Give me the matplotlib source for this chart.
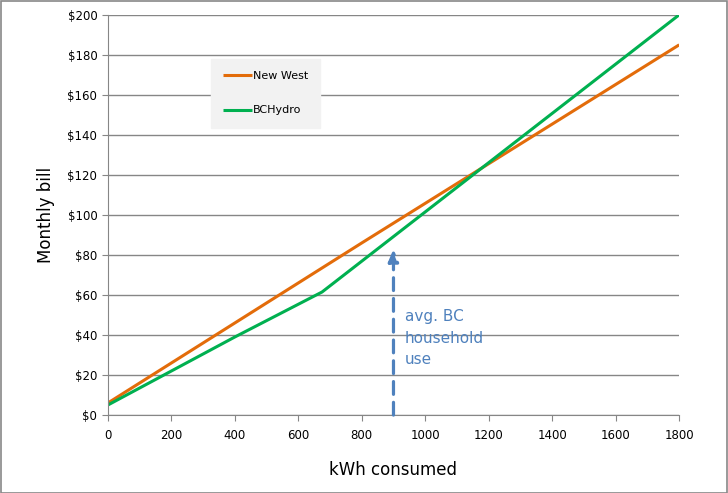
import numpy as np
import matplotlib.pyplot as plt

kwh_nw = [0, 800, 1800]
bill_nw = [6, 86, 185]
kwh_bc = [0, 400, 675, 1800]
bill_bc = [5, 39, 61.5, 200]
avg_use = 900
avg_top = 83

fig = plt.figure(figsize=(7.28, 4.93), dpi=100)
fig.patches.append(plt.Rectangle((0.001, 0.001), 0.997, 0.997, transform=fig.transFigure,
                                 fill=False, edgecolor='#888888', lw=1.2))
ax = fig.add_axes([0.148, 0.158, 0.785, 0.812])

ax.plot(kwh_nw, bill_nw, color='#E36C0A', lw=2.2, label='New West', solid_capstyle='butt')
ax.plot(kwh_bc, bill_bc, color='#00B050', lw=2.2, label='BCHydro', solid_capstyle='butt')

ax.annotate('', xy=(avg_use, avg_top), xytext=(avg_use, 0),
            arrowprops=dict(arrowstyle='-|>,head_length=0.6,head_width=0.25', color='#4F81BD', lw=2.3,
                            linestyle=(0, (4, 2.5)), mutation_scale=12, shrinkA=0, shrinkB=0))
ax.text(936, 38.5, 'avg. BC\nhousehold\nuse', color='#4F81BD', fontsize=11,
        va='center', ha='left', linespacing=1.55)

ax.set_xlim(0, 1800)
ax.set_ylim(0, 200)
ax.set_xticks(np.arange(0, 1801, 200))
ax.set_yticks(np.arange(0, 201, 20))
ax.set_yticklabels(['$%d' % v for v in range(0, 201, 20)])
ax.grid(axis='y', color='#868686', lw=1)
ax.set_axisbelow(True)
for s in ['top', 'right']:
    ax.spines[s].set_visible(False)
ax.spines['left'].set_color('#868686')
ax.spines['bottom'].set_color('#868686')
ax.tick_params(axis='both', labelsize=8.5, color='#868686', length=4, direction='out')
ax.tick_params(axis='x', pad=6)

ax.set_xlabel('kWh consumed', fontsize=12, labelpad=14)
ax.set_ylabel('Monthly bill', fontsize=12, labelpad=9)

leg = ax.legend(loc='upper left', bbox_to_anchor=(0.18, 0.89), fontsize=8,
                frameon=True, fancybox=False, handlelength=2.6, labelspacing=2.2,
                borderpad=1.1, handletextpad=0.1, borderaxespad=0)
leg.get_frame().set_facecolor('#F2F2F2')
leg.get_frame().set_edgecolor('#F2F2F2')
leg.get_frame().set_alpha(1)

fig.savefig('out.png', dpi=100)
